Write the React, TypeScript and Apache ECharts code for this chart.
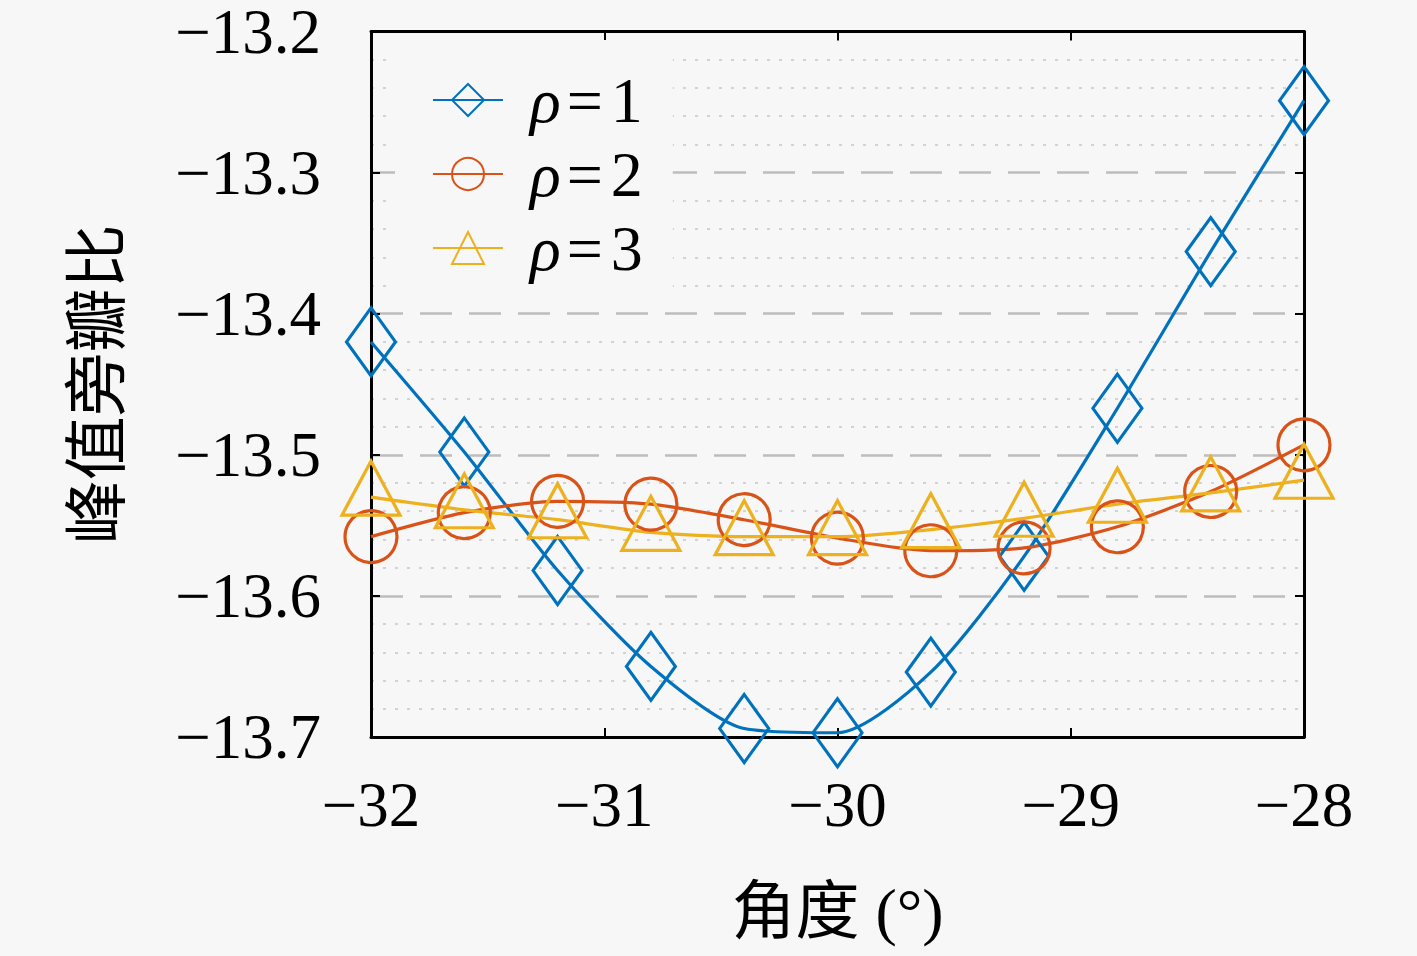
import React, { useEffect, useRef } from "react";
import * as echarts from "echarts";

const angles = [-32, -31.6, -31.2, -30.8, -30.4, -30, -29.6, -29.2, -28.8, -28.4, -28];
const rho1 = [-13.42, -13.498, -13.582, -13.65, -13.694, -13.697, -13.654, -13.572, -13.467, -13.356, -13.249];
const rho2 = [-13.558, -13.541, -13.533, -13.535, -13.546, -13.559, -13.568, -13.566, -13.551, -13.526, -13.493];
const rho3 = [-13.53, -13.539, -13.546, -13.555, -13.558, -13.558, -13.553, -13.545, -13.535, -13.527, -13.518];
const seriesNames = ["ρ=1", "ρ=2", "ρ=3"];
const colors = ["#0072BD", "#D95319", "#EDB120"];

const BG = "#f7f7f7";
const SERIF = "'Liberation Serif', 'DejaVu Serif', serif";
const CJK = "'Liberation Serif', 'Noto Sans CJK SC', sans-serif";

const fmt = (v: number, digits: number) => {
  const s = v.toFixed(digits);
  return s.replace("-", "\u2212");
};

export default function App() {
  const ref = useRef<HTMLDivElement>(null);
  useEffect(() => {
    if (!ref.current) return;
    const chart = echarts.init(ref.current, undefined, { renderer: "svg" });
    const mk = (vals: number[]) => angles.map((x, i) => [x, vals[i]]);
    const common = (i: number) => ({
      type: "line" as const,
      name: seriesNames[i],
      smooth: 0.25,
      clip: false,
      showAllSymbol: true,
      lineStyle: { color: colors[i], width: 3.2 },
      itemStyle: { color: "rgba(0,0,0,0)", borderColor: colors[i], borderWidth: 3.2 },
      emphasis: { disabled: true },
    });
    const axisLine = { show: true, lineStyle: { color: "#000", width: 3 } };
    const tick = { show: true, inside: true, length: 9, lineStyle: { color: "#000", width: 2 } };
    chart.setOption({
      animation: false,
      backgroundColor: BG,
      grid: { left: 371, right: 113, top: 29, bottom: 219, containLabel: false },
      legend: {
        show: true,
        orient: "vertical",
        left: 395,
        top: 40,
        padding: [28, 30, 18, 37],
        backgroundColor: BG,
        itemWidth: 70,
        itemHeight: 40,
        itemGap: 10,
        data: seriesNames,
        formatter: (name: string) => `{i|ρ}{e|=}{n|${name.slice(2)}}`,
        textStyle: {
          color: "#000",
          padding: [0, 0, 0, 22],
          rich: {
            i: { fontFamily: SERIF, fontStyle: "italic", fontSize: 64, color: "#000" },
            e: { fontFamily: SERIF, fontSize: 64, color: "#000", padding: [0, 8, 0, 6] },
            n: { fontFamily: SERIF, fontSize: 64, color: "#000" },
          },
        },
      },
      xAxis: [
        {
          type: "value",
          position: "bottom",
          min: -32,
          max: -28,
          interval: 1,
          name: "角度 (°)",
          nameLocation: "middle",
          nameGap: 142,
          nameTextStyle: { fontFamily: CJK, fontSize: 64, color: "#000" },
          axisLine,
          axisTick: tick,
          axisLabel: {
            margin: 36,
            fontFamily: SERIF,
            fontSize: 63,
            color: "#000",
            formatter: (v: number) => fmt(v, 0),
          },
          splitLine: { show: false },
        },
        {
          type: "value",
          position: "top",
          min: -32,
          max: -28,
          interval: 1,
          axisLine,
          axisTick: tick,
          axisLabel: { show: false },
          splitLine: { show: false },
        },
      ],
      yAxis: [
        {
          type: "value",
          position: "left",
          min: -13.7,
          max: -13.2,
          interval: 0.1,
          name: "峰值旁瓣比",
          nameLocation: "middle",
          nameGap: 248,
          nameTextStyle: { fontFamily: "'Noto Sans CJK SC', sans-serif", fontSize: 64, color: "#000" },
          axisLine,
          axisTick: tick,
          axisLabel: {
            margin: 50,
            fontFamily: SERIF,
            fontSize: 63,
            lineHeight: 46,
            color: "#000",
            formatter: (v: number) => fmt(v, 1),
          },
          splitLine: { show: true, lineStyle: { color: "#bdbdbd", width: 2.5, type: [32, 17] } },
          minorTick: { show: false, splitNumber: 5 },
          minorSplitLine: { show: true, lineStyle: { color: "#d2d2d2", width: 2, type: [3, 9] } },
        },
        {
          type: "value",
          position: "right",
          min: -13.7,
          max: -13.2,
          interval: 0.1,
          axisLine,
          axisTick: tick,
          axisLabel: { show: false },
          splitLine: { show: false },
        },
      ],
      series: [
        { ...common(0), data: mk(rho1), symbol: "diamond", symbolSize: [49, 68] },
        { ...common(1), data: mk(rho2), symbol: "circle", symbolSize: [52, 52] },
        { ...common(2), data: mk(rho3), symbol: "triangle", symbolSize: [58, 54], symbolOffset: [0, -9] },
      ],
    });
    return () => chart.dispose();
  }, []);
  return (
    <div
      ref={ref}
      style={{ position: "absolute", left: 0, top: 0, width: 1417, height: 956, background: BG }}
    />
  );
}
